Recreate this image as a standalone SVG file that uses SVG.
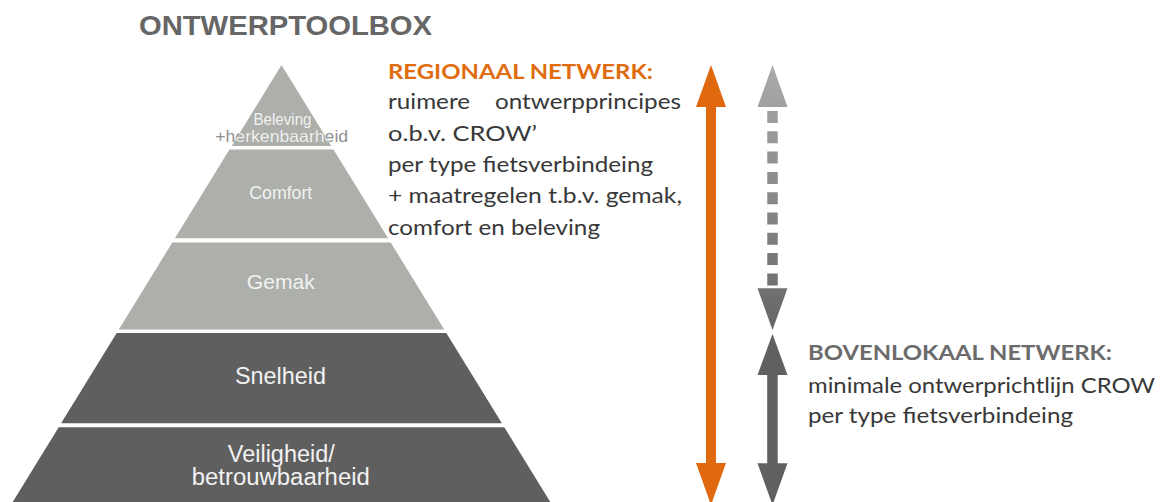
<svg xmlns="http://www.w3.org/2000/svg" width="1164" height="502" viewBox="0 0 1164 502">
<style>
.title{font-family:"Liberation Sans",Arial,sans-serif;font-weight:bold;font-size:28px;fill:#666666}
.lbl{font-family:"Liberation Sans",Arial,sans-serif;fill:#f2f2f2;text-anchor:middle}
.lbl-grey{fill:#8f8f8f}
.light{fill:#adafaa}
.dark{fill:#5f5f5f}
.head-or{font-family:Lato,"Open Sans",sans-serif;font-weight:bold;font-size:20px;fill:#e06c10}
.head-gr{font-family:Lato,"Open Sans",sans-serif;font-weight:bold;font-size:20px;fill:#6b6b6b}
.body{font-family:Lato,"Open Sans",sans-serif;font-size:22px;fill:#383838}
</style>
<defs>
<linearGradient id="gdash" gradientUnits="userSpaceOnUse" x1="0" y1="65" x2="0" y2="330">
<stop offset="0" stop-color="#ababab"/>
<stop offset="1" stop-color="#666666"/>
</linearGradient>
<clipPath id="clip-top">
<polygon points="281.5,65 331.3,146 231.7,146"/>
</clipPath>
</defs>
<rect width="1164" height="502" fill="#ffffff"/>
<text class="title" x="139" y="35" textLength="293" lengthAdjust="spacingAndGlyphs">ONTWERPTOOLBOX</text>

<g id="layer-beleving">
<polygon class="light" points="281.5,65 331.3,146 231.7,146"/>
<text class="lbl" x="282.5" y="125" font-size="16" textLength="58" lengthAdjust="spacingAndGlyphs">Beleving</text>
<text class="lbl lbl-grey" x="281.7" y="141.7" font-size="16.5" textLength="133" lengthAdjust="spacingAndGlyphs">+herkenbaarheid</text>
<text class="lbl" x="281.7" y="141.7" font-size="16.5" textLength="133" lengthAdjust="spacingAndGlyphs" clip-path="url(#clip-top)">+herkenbaarheid</text>
</g>
<g id="layer-comfort">
<polygon class="light" points="229.5,149.5 333.5,149.5 388.1,238.3 174.9,238.3"/>
<text class="lbl" x="280.8" y="199.3" font-size="19" textLength="63" lengthAdjust="spacingAndGlyphs">Comfort</text>
</g>
<g id="layer-gemak">
<polygon class="light" points="172.3,242.5 390.7,242.5 444.2,329.5 118.8,329.5"/>
<text class="lbl" x="280.8" y="289.3" font-size="20.5" textLength="68" lengthAdjust="spacingAndGlyphs">Gemak</text>
</g>
<g id="layer-snelheid">
<polygon class="dark" points="116.7,333 446.3,333 501.9,423.3 61.1,423.3"/>
<text class="lbl" x="280.5" y="384" font-size="24" textLength="91" lengthAdjust="spacingAndGlyphs">Snelheid</text>
</g>
<g id="layer-veiligheid">
<polygon class="dark" points="58.7,427.3 504.3,427.3 555.2,510 7.8,510"/>
<text class="lbl" x="281.3" y="462.3" font-size="23" textLength="107" lengthAdjust="spacingAndGlyphs">Veiligheid/</text>
<text class="lbl" x="280.8" y="485" font-size="23" textLength="178" lengthAdjust="spacingAndGlyphs">betrouwbaarheid</text>
</g>

<g id="text-regionaal">
<text class="head-or" x="388" y="79.3" textLength="265" lengthAdjust="spacingAndGlyphs">REGIONAAL NETWERK:</text>
<text class="body" x="388" y="109.3" textLength="82" lengthAdjust="spacingAndGlyphs">ruimere</text>
<text class="body" x="495" y="109.3" textLength="186" lengthAdjust="spacingAndGlyphs">ontwerpprincipes</text>
<text class="body" x="388" y="140.7" textLength="149" lengthAdjust="spacingAndGlyphs">o.b.v. CROW’</text>
<text class="body" x="388" y="171.7" textLength="265" lengthAdjust="spacingAndGlyphs">per type fietsverbindeing</text>
<text class="body" x="388" y="203.3" textLength="294" lengthAdjust="spacingAndGlyphs">+ maatregelen t.b.v. gemak,</text>
<text class="body" x="388" y="235" textLength="212" lengthAdjust="spacingAndGlyphs">comfort en beleving</text>
</g>

<g id="text-bovenlokaal">
<text class="head-gr" x="808" y="360" textLength="304" lengthAdjust="spacingAndGlyphs">BOVENLOKAAL NETWERK:</text>
<text class="body" x="808" y="393.3" textLength="347" lengthAdjust="spacingAndGlyphs">minimale ontwerprichtlijn CROW</text>
<text class="body" x="808" y="422.7" textLength="265" lengthAdjust="spacingAndGlyphs">per type fietsverbindeing</text>
</g>

<g id="connectors">
<g id="arrow-regionaal" fill="#e0680e">
<polygon points="711,65 726,107 696,107"/>
<rect x="706" y="106" width="10" height="358"/>
<polygon points="696,463 726,463 711,505"/>
</g>
<g id="arrow-dashed" fill="url(#gdash)">
<polygon points="772.5,65 787.5,107 757.5,107"/>
<line x1="772.5" y1="111" x2="772.5" y2="286" stroke="url(#gdash)" stroke-width="10.5" stroke-dasharray="12 8.3"/>
<polygon points="757.5,288.3 787.5,288.3 772.5,330"/>
</g>
<g id="arrow-bovenlokaal" fill="#606060">
<polygon points="772.5,334 787.5,375 757.5,375"/>
<rect x="767.2" y="374" width="10.5" height="90"/>
<polygon points="757.5,463.3 787.5,463.3 772.5,505"/>
</g>
</g>
</svg>
